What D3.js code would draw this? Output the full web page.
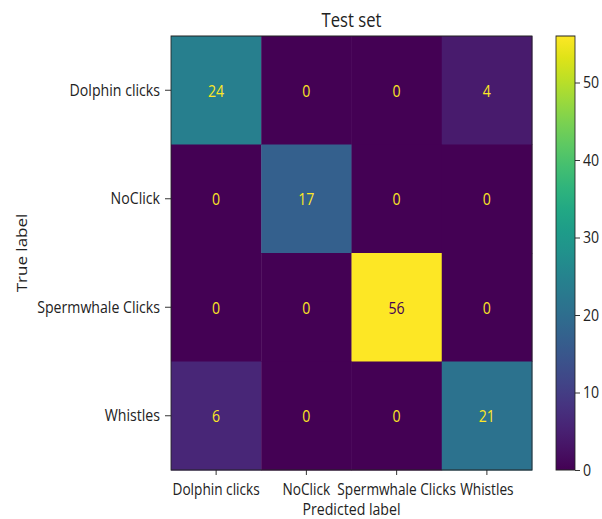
<!DOCTYPE html>
<html>
<head>
<meta charset="utf-8">
<script src="https://cdn.jsdelivr.net/npm/d3@7"></script>
<style>
  html, body { margin: 0; padding: 0; background: #fff; }
  svg { display: block; }
  text { font-family: "Open Sans", "Noto Sans", sans-serif; fill: #222; }
</style>
</head>
<body>
<svg id="chart" width="602" height="519"></svg>
<script>
// ---- data ----
const categories = ["Dolphin clicks", "NoClick", "Spermwhale Clicks", "Whistles"];
const trueLabels = categories;
const predictedLabels = categories;
const row0 = [24, 0, 0, 4];
const row1 = [0, 17, 0, 0];
const row2 = [0, 0, 56, 0];
const row3 = [6, 0, 0, 21];
const matrix = [row0, row1, row2, row3];
const colorTicks = [0, 10, 20, 30, 40, 50];
const titleText = "Test set";
const xLabelText = "Predicted label";
const yLabelText = "True label";

// ---- layout (real pixels) ----
const sx = 0.832; // horizontal squeeze of the original picture
const L = 171, R = 532, T = 36, B = 470;
const cbL = 556, cbR = 575;
const fs = 17;

const svg = d3.select("#chart");
const g = svg.append("g").attr("transform", `scale(${sx},1)`);

const vmax = d3.max(matrix.flat());
const color = d3.scaleSequential(d3.interpolateViridis).domain([0, vmax]);

const x = d3.scaleBand().domain(predictedLabels).range([L / sx, R / sx]);
const y = d3.scaleBand().domain(trueLabels).range([T, B]);

const cells = [];
matrix.forEach((row, i) => row.forEach((v, j) => cells.push({ r: trueLabels[i], c: predictedLabels[j], v })));

g.selectAll("rect.cell").data(cells).enter().append("rect")
  .attr("class", "cell")
  .attr("x", d => x(d.c))
  .attr("y", d => y(d.r))
  .attr("width", x.bandwidth() + 0.5)
  .attr("height", y.bandwidth() + 0.5)
  .attr("fill", d => color(d.v));

const thresh = vmax / 2;
g.selectAll("text.val").data(cells).enter().append("text")
  .attr("class", "val")
  .attr("x", d => x(d.c) + x.bandwidth() / 2)
  .attr("y", d => y(d.r) + y.bandwidth() / 2)
  .attr("text-anchor", "middle")
  .attr("dominant-baseline", "central")
  .style("font-size", fs + "px")
  .style("fill", d => d.v < thresh ? color(vmax) : color(0))
  .text(d => d.v);

// spines
g.append("rect")
  .attr("x", L / sx).attr("y", T)
  .attr("width", (R - L) / sx).attr("height", B - T)
  .attr("fill", "none").attr("stroke", "#222").attr("stroke-width", 1);

// y axis
const yAxis = g.append("g").attr("transform", `translate(${L / sx},0)`)
  .call(d3.axisLeft(y).tickSize(6 / sx).tickPadding(5 / sx));
yAxis.select(".domain").remove();
yAxis.selectAll("text").style("font-size", fs + "px").attr("font-family", null).style("fill", "#222");
yAxis.selectAll("line").attr("stroke", "#222");

// x axis
const xAxis = g.append("g").attr("transform", `translate(0,${B})`)
  .call(d3.axisBottom(x).tickSize(5).tickPadding(8));
xAxis.select(".domain").remove();
xAxis.selectAll("text").style("font-size", "16.4px").attr("font-family", null).style("fill", "#222");
xAxis.selectAll("line").attr("stroke", "#222");

// title
g.append("text")
  .attr("x", (L + R) / 2 / sx).attr("y", 27)
  .attr("text-anchor", "middle")
  .style("font-size", "20px")
  .text(titleText);

// x label
g.append("text")
  .attr("x", (L + R) / 2 / sx).attr("y", 515)
  .attr("text-anchor", "middle")
  .style("font-size", fs + "px")
  .text(xLabelText);

// y label
g.append("text")
  .attr("transform", `translate(${27 / sx},${(T + B) / 2}) rotate(-90)`)
  .attr("text-anchor", "middle")
  .style("font-size", fs + "px")
  .text(yLabelText);

// colorbar
const defs = svg.append("defs");
const grad = defs.append("linearGradient").attr("id", "cbgrad")
  .attr("x1", 0).attr("y1", 1).attr("x2", 0).attr("y2", 0);
d3.range(0, 1.0001, 0.05).forEach(t => {
  grad.append("stop").attr("offset", t).attr("stop-color", d3.interpolateViridis(t));
});
const cy = d3.scaleLinear().domain([0, vmax]).range([B, T]);
g.append("rect")
  .attr("x", cbL / sx).attr("y", T)
  .attr("width", (cbR - cbL) / sx).attr("height", B - T)
  .attr("fill", "url(#cbgrad)")
  .attr("stroke", "#222").attr("stroke-width", 1);
const cAxis = g.append("g").attr("transform", `translate(${cbR / sx},0)`)
  .call(d3.axisRight(cy).tickValues(colorTicks).tickSize(5 / sx).tickPadding(3 / sx));
cAxis.select(".domain").remove();
cAxis.selectAll("text").style("font-size", fs + "px").attr("font-family", null).style("fill", "#222");
cAxis.selectAll("line").attr("stroke", "#222");
</script>
</body>
</html>
